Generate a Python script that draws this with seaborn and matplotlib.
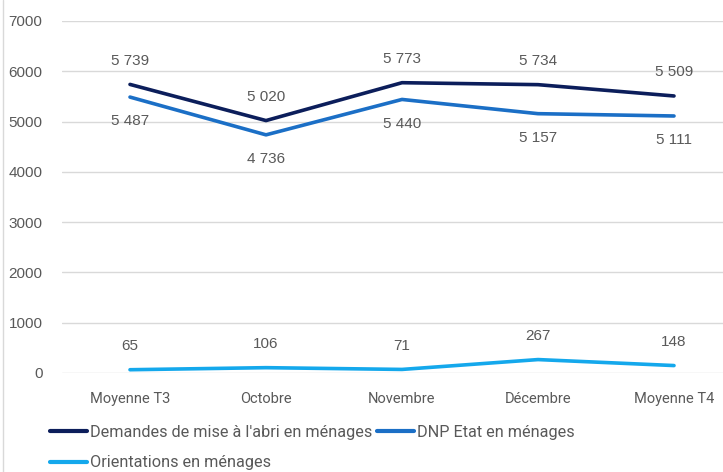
import matplotlib
matplotlib.use("Agg")
import matplotlib.pyplot as plt
from matplotlib.lines import Line2D
import seaborn as sns
import pandas as pd

categories = ["Moyenne T3", "Octobre", "Novembre", "Décembre", "Moyenne T4"]
series_names = ["Demandes de mise à l'abri en ménages", "DNP Etat en ménages", "Orientations en ménages"]
demandes = [5739, 5020, 5773, 5734, 5509]
dnp = [5487, 4736, 5440, 5157, 5111]
orientations = [65, 106, 71, 267, 148]
y_ticks = [0, 1000, 2000, 3000, 4000, 5000, 6000, 7000]

colors = ["#0C1E5B", "#1B6FC6", "#14A8EC"]
label_pos = ["above", "below", "above"]

values = [demandes, dnp, orientations]
df = pd.DataFrame({
    "cat": categories * 3,
    "val": demandes + dnp + orientations,
    "serie": sum([[n] * len(categories) for n in series_names], []),
})

sns.set_theme(style="white")
plt.rcParams["font.family"] = ["Liberation Sans", "DejaVu Sans"]

W, H = 723, 472
fig = plt.figure(figsize=(W / 100, H / 100), dpi=100)
ax = fig.add_axes([62 / W, (H - 373) / H, (742 - 62) / W, (373 - 21) / H])

sns.lineplot(data=df, x="cat", y="val", hue="serie", palette=colors,
             hue_order=series_names, linewidth=2.6, ax=ax, legend=False, sort=False)

ax.set_xlim(-0.5, 4.5)
ax.set_ylim(0, 7000)
ax.set_yticks(y_ticks)
ax.set_yticklabels([str(v) for v in y_ticks])
ax.grid(axis="y", color="#D9D9D9", linewidth=1.0)
ax.grid(axis="x", visible=False)
ax.set_axisbelow(True)
for s in ax.spines.values():
    s.set_visible(False)
ax.set_xlabel("")
ax.set_ylabel("")
ax.tick_params(axis="y", length=0, pad=14, labelsize=11, labelcolor="#595959")
ax.tick_params(axis="x", length=0, pad=14, labelcolor="#595959")
for t in ax.get_xticklabels():
    t.set_fontfamily(["Roboto", "DejaVu Sans"])
    t.set_fontsize(10.5)

def fmt(v):
    return f"{v:,}".replace(",", " ")

for vals, pos in zip(values, label_pos):
    for i, v in enumerate(vals):
        off = 17 if pos == "above" else -17.5
        ax.annotate(fmt(v), (i, v), xytext=(0, off), textcoords="offset points",
                    ha="center", va="center", fontsize=11, color="#595959")

handles = [Line2D([0], [0], color=c, linewidth=3) for c in colors]
order = [0, 2, 1]
fig.legend([handles[i] for i in order], [series_names[i] for i in order],
           ncol=2, loc="upper left",
           bbox_to_anchor=(50 / W, (H - 425) / H), frameon=False,
           prop={"family": ["Roboto", "DejaVu Sans"], "size": 11.7},
           labelcolor="#595959", handlelength=2.3, handletextpad=0.15,
           columnspacing=0.3, borderpad=0, borderaxespad=0, labelspacing=0.95)

fig.add_artist(Line2D([2.5 / W, 2.5 / W], [0, 1], transform=fig.transFigure,
                      color="#D9D9D9", linewidth=1))

fig.savefig("out.png", dpi=100)
